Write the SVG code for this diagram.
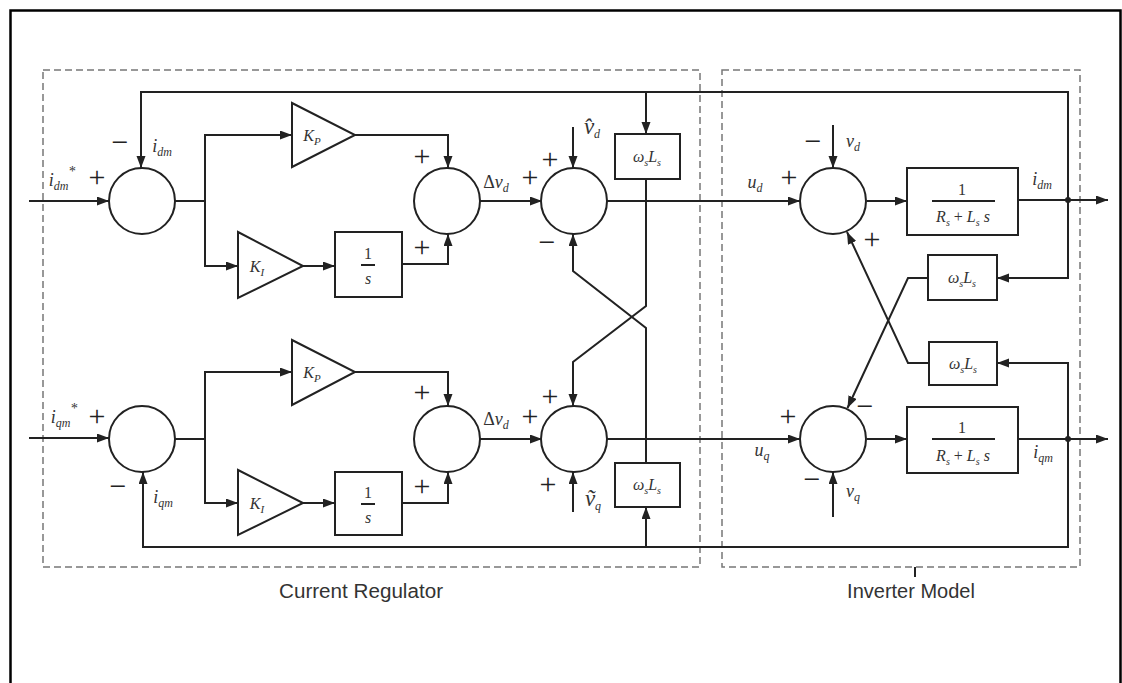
<svg xmlns="http://www.w3.org/2000/svg" width="1122" height="683" viewBox="0 0 1122 683">
<defs>
<marker id="ah" markerUnits="userSpaceOnUse" markerWidth="12" markerHeight="10" refX="12" refY="4.5" orient="auto">
<path d="M0,0 L12,4.5 L0,9 z" fill="#222"/>
</marker>
<style>
.ln{stroke:#222;stroke-width:2;fill:none}
.ar{stroke:#222;stroke-width:2;fill:none;marker-end:url(#ah)}
.nd{fill:#fff;stroke:#222;stroke-width:2}
.dash{stroke:#777;stroke-width:1.5;stroke-dasharray:7 4;fill:none}
.m{font-family:"Liberation Serif",serif;font-style:italic;font-size:18px;fill:#333;text-anchor:middle}
.k{font-family:"Liberation Serif",serif;font-style:italic;font-size:16px;fill:#333;text-anchor:middle}
.sg{font-family:"Liberation Serif",serif;font-size:30px;fill:#222;text-anchor:middle}
.lb{font-family:"Liberation Sans",Arial,sans-serif;font-size:20px;fill:#333;text-anchor:middle}
.n{font-family:"Liberation Serif",serif;font-size:16px;fill:#333;text-anchor:middle}
.up{font-style:normal}
.big{font-size:23px}
</style>
</defs>
<rect width="1122" height="683" fill="#fff"/>
<path d="M10.5,690 V10.5 H1120.5 V690" fill="none" stroke="#000" stroke-width="2.5"/>

<g id="regions">
<rect class="dash" x="43" y="70" width="657" height="497"/>
<rect class="dash" x="722" y="70" width="358" height="497"/>
<line class="ln" x1="915" y1="567" x2="915" y2="577" stroke-width="1"/>
<text class="lb" x="361" y="598" textLength="164" lengthAdjust="spacingAndGlyphs">Current Regulator</text>
<text class="lb" x="911" y="598">Inverter Model</text>
</g>

<g id="connectors">
<path class="ar" d="M29,201 H109"/>
<path class="ar" d="M1068,200 V92 H141 V168"/>
<path class="ar" d="M1068,200 V278 H997"/>
<path class="ar" d="M646,92 V134"/>
<path class="ln" d="M175,201 H205"/>
<path class="ar" d="M205,201 V135 H292"/>
<path class="ar" d="M205,201 V266 H238"/>
<path class="ar" d="M355,135 H448 V168"/>
<path class="ar" d="M303,266 H335"/>
<path class="ar" d="M402,264 H448 V234"/>
<path class="ar" d="M480,201 H542"/>
<path class="ar" d="M573,127 V168"/>
<path class="ar" d="M607,201 H800"/>
<path class="ar" d="M646,179 V306 L573,362 V406"/>
<path class="ar" d="M646,463 V328 L573,271 V234"/>
<path class="ar" d="M833,125 V168"/>
<path class="ar" d="M867,201 H907"/>
<path class="ar" d="M1018,200 H1108"/>
<path class="ar" d="M928,278 H908 L847.5,408"/>
<path class="ar" d="M929,363 H908 L847,232"/>

<path class="ar" d="M29,438 H109"/>
<path class="ar" d="M1068,439 V547 H143 V472"/>
<path class="ar" d="M646,547 V507"/>
<path class="ar" d="M1068,439 V363 H997"/>
<path class="ln" d="M175,439 H205"/>
<path class="ar" d="M205,439 V372 H292"/>
<path class="ar" d="M205,439 V503 H238"/>
<path class="ar" d="M355,372 H448 V406"/>
<path class="ar" d="M303,503 H335"/>
<path class="ar" d="M402,503 H448 V472"/>
<path class="ar" d="M480,439 H542"/>
<path class="ar" d="M573,512 V472"/>
<path class="ar" d="M607,439 H800"/>
<path class="ar" d="M833,517 V472"/>
<path class="ar" d="M867,439 H907"/>
<path class="ar" d="M1018,439 H1108"/>
<circle cx="1068" cy="200" r="3" fill="#222"/>
<circle cx="1068" cy="439" r="3" fill="#222"/>
</g>

<g id="sum-d1"><circle class="nd" cx="142" cy="201" r="33"/>
<text class="sg" x="97" y="187">+</text><text class="sg" x="120" y="152">−</text>
<text class="m" x="62" y="186">i<tspan font-size="12" dy="4">dm</tspan><tspan font-size="14" dy="-14">*</tspan></text>
<text class="m" x="162" y="152">i<tspan font-size="12" dy="4">dm</tspan></text>
</g>
<g id="kp-d"><polygon class="nd" points="292,103 292,167 355,135"/><text class="k" x="312" y="141">K<tspan font-size="11" dy="4">P</tspan></text></g>
<g id="ki-d"><polygon class="nd" points="238,232 238,298 303,266"/><text class="k" x="257" y="272">K<tspan font-size="11" dy="4">I</tspan></text></g>
<g id="int-d"><rect class="nd" x="335" y="232" width="67" height="65"/><text class="n" x="368" y="259">1</text><line class="ln" x1="361" y1="265" x2="375" y2="265" stroke-width="1"/><text class="k" x="368" y="284">s</text></g>
<g id="sum-d2"><circle class="nd" cx="447" cy="201" r="33"/>
<text class="sg" x="422" y="166">+</text><text class="sg" x="422" y="257">+</text>
<text class="m" x="496" y="188"><tspan class="up">Δ</tspan>v<tspan font-size="12" dy="4">d</tspan></text>
</g>
<g id="sum-d3"><circle class="nd" cx="574" cy="201" r="33"/>
<text class="sg" x="530" y="187">+</text><text class="sg" x="550" y="169">+</text><text class="sg" x="547" y="252">−</text>
<text class="m big" x="592" y="134">v̂<tspan font-size="12" dy="4">d</tspan></text>
</g>
<g id="wl-d"><rect class="nd" x="615" y="134" width="65" height="45"/><text class="k" x="647" y="162">ω<tspan font-size="10" dy="4">s</tspan><tspan dy="-4">L</tspan><tspan font-size="10" dy="4">s</tspan></text></g>

<g id="inv-d-sum"><circle class="nd" cx="833" cy="201" r="33"/>
<text class="sg" x="789" y="187">+</text><text class="sg" x="813" y="151">−</text><text class="sg" x="872" y="249">+</text>
<text class="m" x="755" y="188">u<tspan font-size="12" dy="4">d</tspan></text>
<text class="m" x="853" y="147">v<tspan font-size="12" dy="4">d</tspan></text>
</g>
<g id="plant-d"><rect class="nd" x="907" y="168" width="111" height="67"/>
<text class="n" x="962" y="195">1</text><line class="ln" x1="932" y1="201" x2="995" y2="201" stroke-width="1"/>
<text class="k" x="963" y="222">R<tspan font-size="10" dy="4">s</tspan><tspan dy="-4" font-style="normal"> + </tspan>L<tspan font-size="10" dy="4">s</tspan><tspan dy="-4"> s</tspan></text>
<text class="m" x="1042" y="185">i<tspan font-size="12" dy="4">dm</tspan></text>
</g>
<g id="wl-inv-d"><rect class="nd" x="928" y="255" width="69" height="45"/><text class="k" x="962" y="283">ω<tspan font-size="10" dy="4">s</tspan><tspan dy="-4">L</tspan><tspan font-size="10" dy="4">s</tspan></text></g>
<g id="wl-inv-q"><rect class="nd" x="929" y="342" width="68" height="43"/><text class="k" x="963" y="369">ω<tspan font-size="10" dy="4">s</tspan><tspan dy="-4">L</tspan><tspan font-size="10" dy="4">s</tspan></text></g>

<g id="sum-q1"><circle class="nd" cx="142" cy="439" r="33"/>
<text class="sg" x="97" y="426">+</text><text class="sg" x="118" y="496">−</text>
<text class="m" x="64" y="423">i<tspan font-size="12" dy="4">qm</tspan><tspan font-size="14" dy="-14">*</tspan></text>
<text class="m" x="163" y="503">i<tspan font-size="12" dy="4">qm</tspan></text>
</g>
<g id="kp-q"><polygon class="nd" points="292,340 292,405 355,372"/><text class="k" x="312" y="378">K<tspan font-size="11" dy="4">P</tspan></text></g>
<g id="ki-q"><polygon class="nd" points="238,470 238,535 303,503"/><text class="k" x="257" y="509">K<tspan font-size="11" dy="4">I</tspan></text></g>
<g id="int-q"><rect class="nd" x="335" y="472" width="67" height="63"/><text class="n" x="368" y="498">1</text><line class="ln" x1="361" y1="504" x2="375" y2="504" stroke-width="1"/><text class="k" x="368" y="523">s</text></g>
<g id="sum-q2"><circle class="nd" cx="447" cy="439" r="33"/>
<text class="sg" x="422" y="402">+</text><text class="sg" x="422" y="496">+</text>
<text class="m" x="496" y="425"><tspan class="up">Δ</tspan>v<tspan font-size="12" dy="4">d</tspan></text>
</g>
<g id="sum-q3"><circle class="nd" cx="574" cy="439" r="33"/>
<text class="sg" x="530" y="426">+</text><text class="sg" x="550" y="406">+</text><text class="sg" x="548" y="494">+</text>
<text class="m big" x="593" y="506">ṽ<tspan font-size="12" dy="4">q</tspan></text>
</g>
<g id="wl-q"><rect class="nd" x="615" y="463" width="65" height="44"/><text class="k" x="647" y="490">ω<tspan font-size="10" dy="4">s</tspan><tspan dy="-4">L</tspan><tspan font-size="10" dy="4">s</tspan></text></g>

<g id="inv-q-sum"><circle class="nd" cx="833" cy="439" r="33"/>
<text class="sg" x="788" y="426">+</text><text class="sg" x="865" y="416">−</text><text class="sg" x="812" y="489">−</text>
<text class="m" x="762" y="456">u<tspan font-size="12" dy="4">q</tspan></text>
<text class="m" x="853" y="497">v<tspan font-size="12" dy="4">q</tspan></text>
</g>
<g id="plant-q"><rect class="nd" x="907" y="407" width="111" height="66"/>
<text class="n" x="962" y="433">1</text><line class="ln" x1="932" y1="439" x2="995" y2="439" stroke-width="1"/>
<text class="k" x="963" y="461">R<tspan font-size="10" dy="4">s</tspan><tspan dy="-4" font-style="normal"> + </tspan>L<tspan font-size="10" dy="4">s</tspan><tspan dy="-4"> s</tspan></text>
<text class="m" x="1043" y="458">i<tspan font-size="12" dy="4">qm</tspan></text>
</g>
</svg>
